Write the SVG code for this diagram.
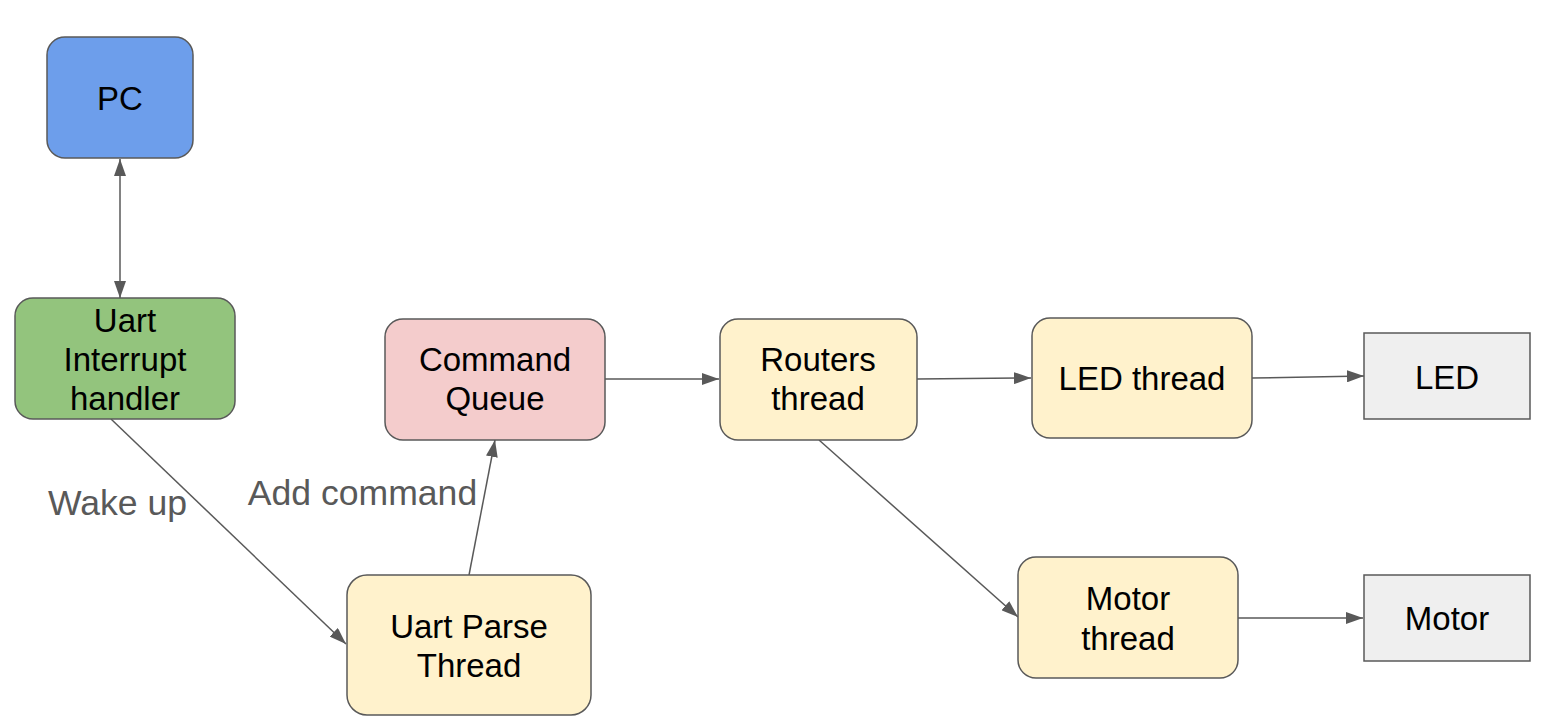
<svg xmlns="http://www.w3.org/2000/svg" width="1551" height="727" viewBox="0 0 1551 727">
<style>
.n{stroke:#595959;stroke-width:1.5}
.t{font-family:"Liberation Sans",Arial,sans-serif;font-size:33px;fill:#000;text-anchor:middle}
.l{font-family:"Liberation Sans",Arial,sans-serif;font-size:35.6px;fill:#595959;text-anchor:middle}
.c{stroke:#595959;stroke-width:1.5;fill:none;marker-end:url(#a)}
</style>
<defs>
<marker id="a" markerWidth="17" markerHeight="12" refX="17" refY="6" orient="auto-start-reverse" markerUnits="userSpaceOnUse">
<path d="M0,0 L17,6 L0,12 Z" fill="#595959"/>
</marker>
</defs>
<rect width="1551" height="727" fill="#fff"/>
<g id="connectors">
<line class="c" x1="120" y1="159" x2="120" y2="298" style="marker-start:url(#a)"/>
<line class="c" x1="111" y1="419" x2="346" y2="644"/>
<line class="c" x1="469" y1="575" x2="495" y2="440"/>
<line class="c" x1="605" y1="379" x2="719" y2="379"/>
<line class="c" x1="917" y1="379" x2="1031" y2="378"/>
<line class="c" x1="1252" y1="378" x2="1364" y2="376"/>
<line class="c" x1="819" y1="440" x2="1018" y2="617"/>
<line class="c" x1="1238" y1="618" x2="1363" y2="618"/>
</g>
<g id="pc"><rect class="n" x="47" y="37" width="146" height="121" rx="18" fill="#6d9eeb"/><text class="t" x="120" y="110">PC</text></g>
<g id="uart-interrupt"><rect class="n" x="15" y="298" width="220" height="121" rx="18" fill="#93c47d"/><text class="t" x="125" y="332">Uart</text><text class="t" x="125" y="371">Interrupt</text><text class="t" x="125" y="410">handler</text></g>
<g id="command-queue"><rect class="n" x="385" y="319" width="220" height="121" rx="18" fill="#f4cccc"/><text class="t" x="495" y="371">Command</text><text class="t" x="495" y="410">Queue</text></g>
<g id="routers"><rect class="n" x="720" y="319" width="197" height="121" rx="18" fill="#fff2cc"/><text class="t" x="818" y="371">Routers</text><text class="t" x="818" y="410">thread</text></g>
<g id="led-thread"><rect class="n" x="1032" y="318" width="220" height="120" rx="18" fill="#fff2cc"/><text class="t" x="1142" y="390">LED thread</text></g>
<g id="led"><rect class="n" x="1364" y="333" width="166" height="86" fill="#efefef"/><text class="t" x="1447" y="389">LED</text></g>
<g id="motor-thread"><rect class="n" x="1018" y="557" width="220" height="121" rx="18" fill="#fff2cc"/><text class="t" x="1128" y="610">Motor</text><text class="t" x="1128" y="650">thread</text></g>
<g id="motor"><rect class="n" x="1364" y="575" width="166" height="86" fill="#efefef"/><text class="t" x="1447" y="630">Motor</text></g>
<g id="uart-parse"><rect class="n" x="347" y="575" width="244" height="140" rx="20" fill="#fff2cc"/><text class="t" x="469" y="638">Uart Parse</text><text class="t" x="469" y="677">Thread</text></g>
<g id="labels"><text class="l" x="117.5" y="515">Wake up</text><text class="l" x="362.5" y="505">Add command</text></g>
</svg>
